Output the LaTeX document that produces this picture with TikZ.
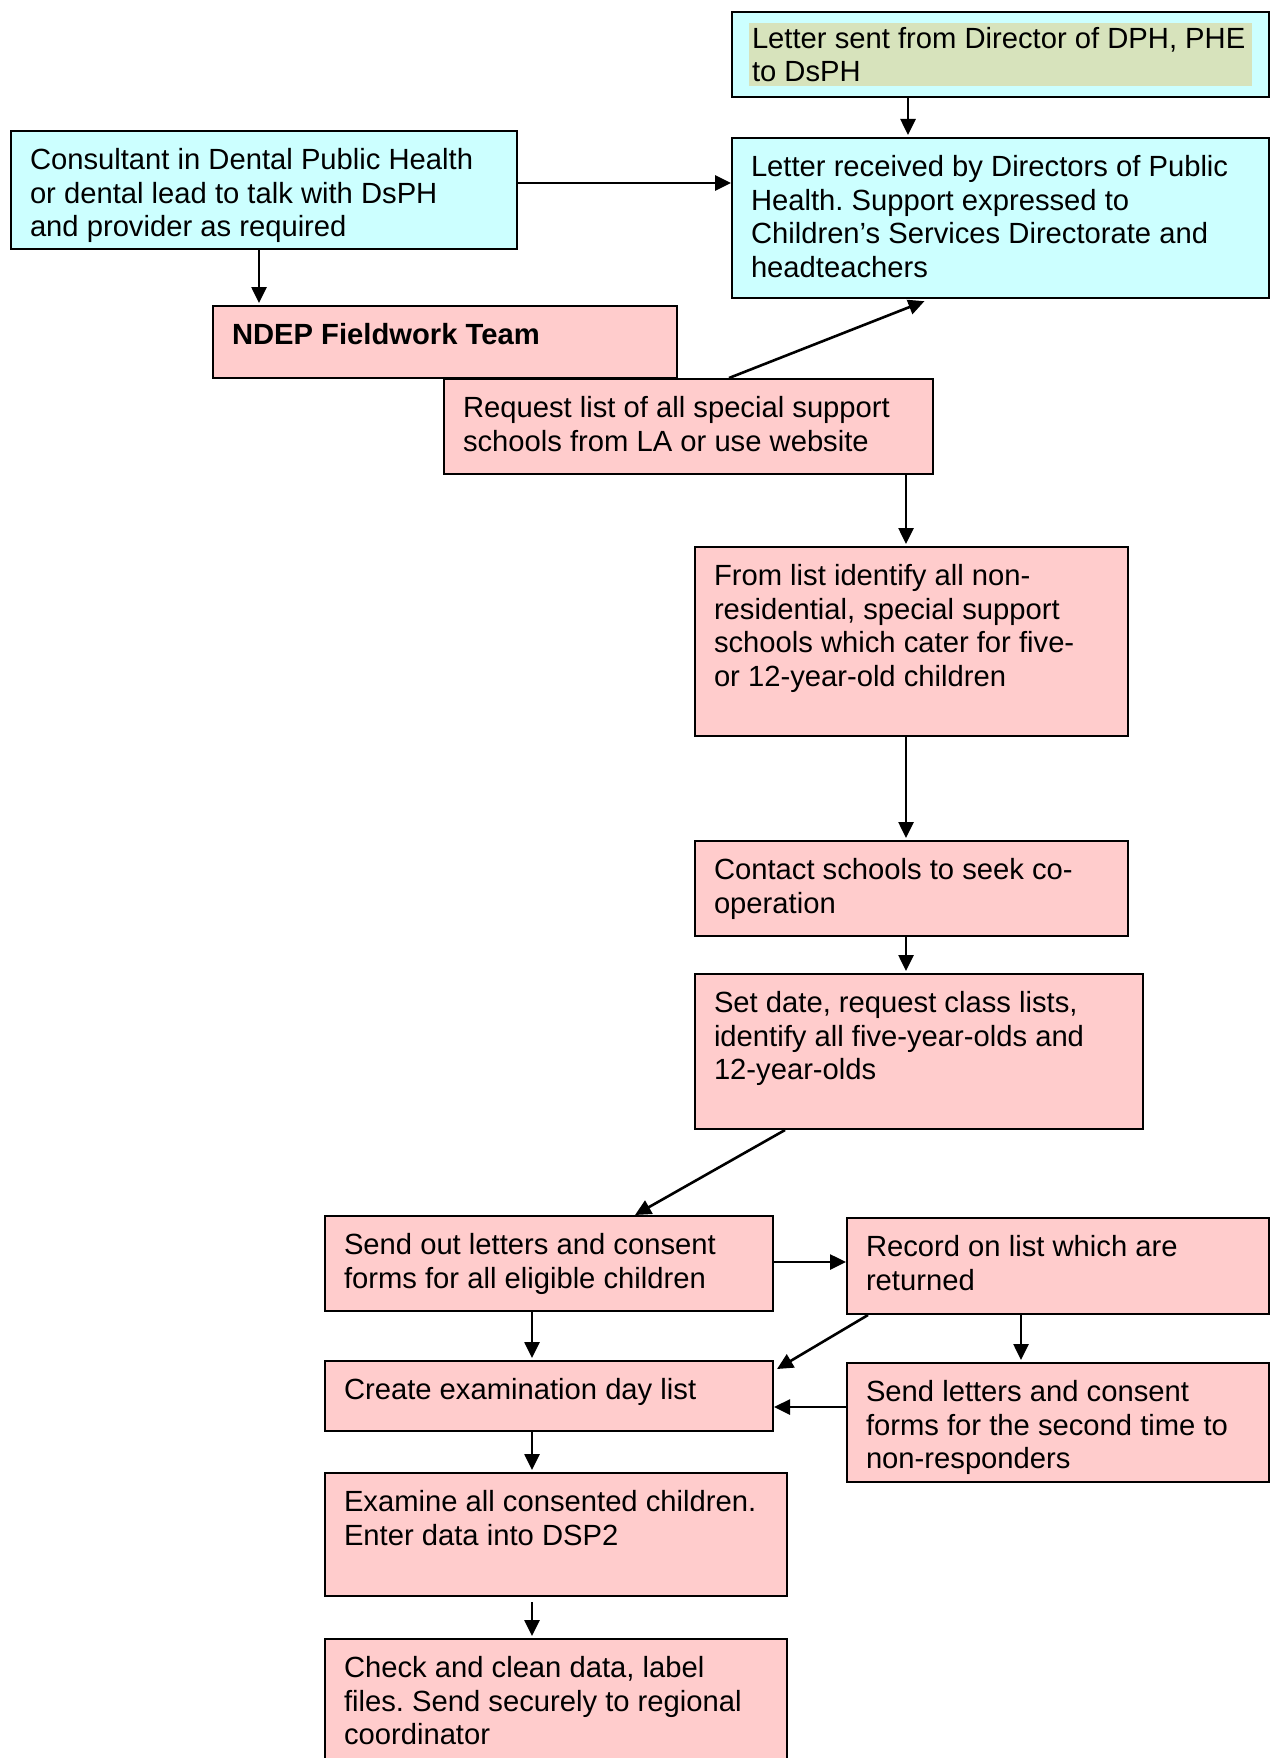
\documentclass[tikz,border=0pt]{standalone}
\usepackage{fontspec}
\setmainfont{Liberation Sans}
\usetikzlibrary{arrows.meta}

\definecolor{boxcyan}{RGB}{204,255,255}
\definecolor{boxpink}{RGB}{255,204,204}
\definecolor{hlgreen}{RGB}{215,227,188}

\frenchspacing
\newcommand\boxtext[3]{\parbox[t][#2pt][t]{#1pt}{\raggedright\strut#3}}

\tikzset{
	flowbox/.style={draw, line width=2pt, anchor=north west, inner xsep=19pt, inner ysep=15pt, font=\fontsize{29.2}{33.6}\selectfont},
	bluebox/.style={flowbox, fill=boxcyan},
	pinkbox/.style={flowbox, fill=boxpink},
	arr/.style={line width=2.6pt, -{Triangle[length=16pt,width=15pt]}},
}

\begin{document}
\begin{tikzpicture}[x=1pt,y=-1pt]
\useasboundingbox (0,0) rectangle (1269,1758);

\node[bluebox, inner xsep=17pt, inner ysep=11pt] (letterSent) at (731,11) {\colorbox{hlgreen}{\parbox[c][57pt][c]{497pt}{\raggedright Letter sent from Director of DPH, PHE\\to DsPH}}};
\node[bluebox] (letterRecv) at (731,137) {\boxtext{499}{130}{Letter received by Directors of Public\\Health. Support expressed to\\Children’s Services Directorate and\\headteachers}};
\node[bluebox] (consultant) at (10,130) {\boxtext{468}{88}{Consultant in Dental Public Health\\or dental lead to talk with DsPH\\and provider as required}};
\node[pinkbox] (ndep) at (212,305) {\boxtext{426}{42}{\bfseries NDEP Fieldwork Team}};
\node[pinkbox] (request) at (443,378) {\boxtext{451}{65}{Request list of all special support\\schools from LA or use website}};
\node[pinkbox] (fromList) at (694,546) {\boxtext{395}{159}{From list identify all non-\\residential, special support\\schools which cater for five-\\or 12-year-old children}};
\node[pinkbox] (contact) at (694,840) {\boxtext{395}{65}{Contact schools to seek co-\\operation}};
\node[pinkbox] (setDate) at (694,973) {\boxtext{410}{125}{Set date, request class lists,\\identify all five-year-olds and\\12-year-olds}};
\node[pinkbox] (sendOut) at (324,1215) {\boxtext{410}{65}{Send out letters and consent\\forms for all eligible children}};
\node[pinkbox] (record) at (846,1217) {\boxtext{384}{66}{Record on list which are\\returned}};
\node[pinkbox] (create) at (324,1360) {\boxtext{410}{40}{Create examination day list}};
\node[pinkbox] (sendSecond) at (846,1362) {\boxtext{384}{89}{Send letters and consent\\forms for the second time to\\non-responders}};
\node[pinkbox] (examine) at (324,1472) {\boxtext{424}{93}{Examine all consented children.\\Enter data into DSP2}};
\node[pinkbox] (check) at (324,1638) {\boxtext{424}{110}{Check and clean data, label\\files. Send securely to regional\\coordinator}};

\foreach \u/\v/\x in {
	letterSent/letterRecv/908,consultant/ndep/259,%
	request/fromList/906,fromList/contact/906,contact/setDate/906,%
	sendOut/create/532,record/sendSecond/1021,create/examine/532%
}{
	\draw[arr, shorten >=2pt] (\u.south -| \x,0) -- (\v.north -| \x,0);
}
\draw[arr, shorten <=5pt, shorten >=2pt] (examine.south -| 532,0) -- (check.north -| 532,0);

\foreach \u/\v/\y in {
	consultant.east/letterRecv.west/183,%
	sendOut.east/record.west/1262,%
	sendSecond.west/create.east/1407%
}{
	\draw[arr] (\u |- 0,\y) -- (\v |- 0,\y);
}

\draw[arr, shorten >=6pt] (request.north -| 729,0) -- (letterRecv.south -| 930,0);
\draw[arr] (setDate.south -| 785,0) -- (sendOut.north -| 635,0);
\draw[arr] (record.south -| 868,0) -- ([xshift=3pt,yshift=-9pt]create.north east);

\end{tikzpicture}
\end{document}
